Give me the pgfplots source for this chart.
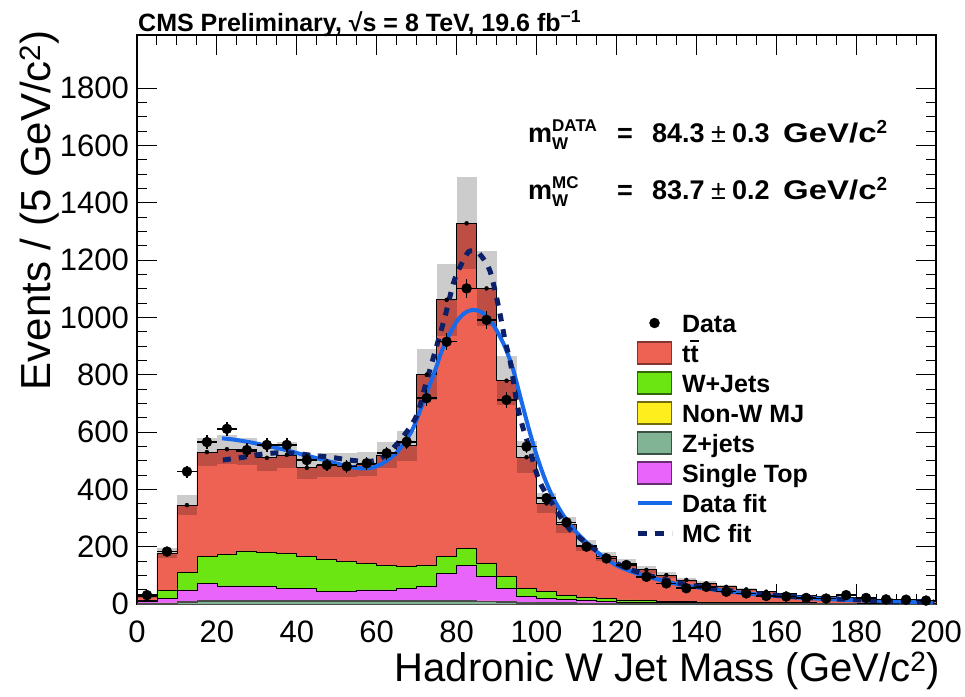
\documentclass[border=0pt]{standalone}
\usepackage{fontspec}
\setmainfont{Liberation Sans}
\usepackage{pgfplots}
\pgfplotsset{compat=1.18}
\usepackage{pgfplotstable}

\definecolor{ttred}{RGB}{238,98,84}
\definecolor{wgreen}{RGB}{108,230,18}
\definecolor{mjyellow}{RGB}{255,238,30}
\definecolor{zgreen}{RGB}{128,180,148}
\definecolor{stmag}{RGB}{232,100,250}
\definecolor{fitblue}{RGB}{25,105,235}
\definecolor{mcnavy}{RGB}{12,32,105}

\pgfplotstableread{
x tt w st mj z err
0 13 4 5 1 2 3
5 131 26 16 1 3 18
10 236 60 40 3 6 35
15 365 93 59 3 10 50
20 366 111 51 3 9 50
25 347 122 51 3 9 48
30 329 121 48 3 9 45
35 343 122 43 3 9 45
40 310 110 43 3 9 40
45 331 111 31 3 9 42
50 337 105 31 3 9 42
55 345 93 37 3 9 42
60 384 87 37 3 9 45
65 422 75 43 3 9 52
70 664 76 48 3 9 90
75 894 60 94 3 10 125
80 1134 61 120 3 10 160
85 959 47 84 3 8 130
90 684 40 46 3 6 85
95 457 29 20 2 4 55
100 308 23 15 2 3 35
105 245 15 11 2 3 28
110 183 10 8 2 2 20
115 147 9 6 1 2 16
120 128 7 4 1 2 14
125 108 5 4 1 1 12
130 92 4 3 1 1 10
135 76 4 2 1 1 8
140 65 3 2 1 1 7
145 54 3 2 0 1 6
150 46 2 2 0 1 5
155 38 2 2 0 1 4
160 32 2 1 0 1 4
165 26 2 1 0 1 3
170 22 1 1 0 1 3
175 19 1 1 0 1 3
180 16 2 1 0 0 2
185 14 1 1 0 0 2
190 10 1 1 0 0 2
195 8 1 1 0 0 2
200 8 1 1 0 0 2
}\histtab

\pgfplotstableread{
xc data derr
2.5 31 6
7.5 183 14
12.5 462 21
17.5 565 24
22.5 611 25
27.5 537 23
32.5 555 24
37.5 555 24
42.5 502 22
47.5 485 22
52.5 480 22
57.5 491 22
62.5 526 23
67.5 566 24
72.5 718 27
77.5 915 30
82.5 1101 33
87.5 991 31
92.5 712 27
97.5 549 23
102.5 369 19
107.5 285 17
112.5 200 14
117.5 159 13
122.5 136 12
127.5 95 10
132.5 72 8
137.5 55 7
142.5 60 8
147.5 43 7
152.5 37 6
157.5 28 5
162.5 26 5
167.5 21 5
172.5 19 4
177.5 31 6
182.5 21 5
187.5 16 4
192.5 15 4
197.5 12 3
}\datatab

\newcommand{\legbox}{\path[draw=none, fill=none] (0pt,-12pt) rectangle (34pt,12pt);}

\begin{document}
\begin{tikzpicture}
\begin{axis}[
  at={(137pt,92pt)}, anchor=south west,
  width=799pt, height=569pt, scale only axis,
  xmin=0, xmax=200, ymin=0, ymax=1985,
  xtick={0,20,...,200}, ytick={0,200,...,1800},
  minor x tick num=3, minor y tick num=3,
  tick align=inside, xtick pos=both, ytick pos=both,
  major tick length=20pt, minor tick length=10pt,
  every tick/.style={black, line width=1pt},
  axis line style={line width=1.2pt},
  ticklabel style={font=\fontsize{31}{31}\selectfont},
  xticklabel style={inner sep=0pt, yshift=-17pt},
  yticklabel style={inner sep=0pt, xshift=-8pt},
  /pgf/number format/assume math mode=true,
  /pgf/number format/1000 sep={},
  scaled ticks=false,
  legend cell align=left,
  legend style={at={(rel axis cs:0.6233,0.5149)}, anchor=north west,
    draw=none, fill=none, inner sep=0pt, outer sep=0pt,
    font=\bfseries\fontsize{25}{25}\selectfont,
    row sep=6pt, /tikz/column sep=8pt,
    nodes={inner sep=0pt, text height=18pt, text depth=0pt}},
]
% legend
\addlegendimage{legend image code/.code={\legbox\fill[black] (17pt,0pt) circle (5pt);}}
\addlegendentry{Data}
\addlegendimage{legend image code/.code={\legbox\draw[fill=ttred, draw=ttred!55!black, line width=1.5pt] (0pt,-11pt) rectangle (34pt,11pt);}}
\addlegendentry{t\rlap{\rule[0.8em]{0.33em}{0.07em}}t}
\addlegendimage{legend image code/.code={\legbox\draw[fill=wgreen, draw=wgreen!45!black, line width=1.5pt] (0pt,-11pt) rectangle (34pt,11pt);}}
\addlegendentry{W+Jets}
\addlegendimage{legend image code/.code={\legbox\draw[fill=mjyellow, draw=mjyellow!45!black, line width=1.5pt] (0pt,-11pt) rectangle (34pt,11pt);}}
\addlegendentry{Non-W MJ}
\addlegendimage{legend image code/.code={\legbox\draw[fill=zgreen, draw=zgreen!45!black, line width=1.5pt] (0pt,-11pt) rectangle (34pt,11pt);}}
\addlegendentry{Z+jets}
\addlegendimage{legend image code/.code={\legbox\draw[fill=stmag, draw=stmag!45!black, line width=1.5pt] (0pt,-11pt) rectangle (34pt,11pt);}}
\addlegendentry{Single Top}
\addlegendimage{legend image code/.code={\legbox\draw[fitblue, line width=4pt] (0pt,0pt) -- (34pt,0pt);}}
\addlegendentry{Data fit}
\addlegendimage{legend image code/.code={\legbox\draw[mcnavy, line width=5pt, dash pattern=on 9pt off 8pt] (0pt,0pt) -- (34pt,0pt);}}
\addlegendentry{MC fit}

% stacked histogram (cumulative from the components)
\addplot[forget plot, const plot mark left, fill=ttred, draw=black, line width=0.8pt]
  table[x=x, y expr=\thisrow{tt}+\thisrow{w}+\thisrow{st}+\thisrow{mj}+\thisrow{z}]{\histtab} \closedcycle;
\addplot[forget plot, const plot mark left, fill=wgreen, draw=black, line width=0.8pt]
  table[x=x, y expr=\thisrow{w}+\thisrow{st}+\thisrow{mj}+\thisrow{z}]{\histtab} \closedcycle;
\addplot[forget plot, const plot mark left, fill=stmag, draw=black, line width=0.8pt]
  table[x=x, y expr=\thisrow{st}+\thisrow{mj}+\thisrow{z}]{\histtab} \closedcycle;
\addplot[forget plot, const plot mark left, fill=mjyellow, draw=black!70, line width=0.6pt]
  table[x=x, y expr=\thisrow{mj}+\thisrow{z}]{\histtab} \closedcycle;
\addplot[forget plot, const plot mark left, fill=zgreen, draw=black!70, line width=0.6pt]
  table[x=x, y=z]{\histtab} \closedcycle;

% MC uncertainty band (one bin-wide bar per bin)
\addplot[forget plot, only marks, mark=none,
  error bars/.cd, y dir=both, y explicit, error mark=none,
  error bar style={line width=19.97pt, draw=black, draw opacity=0.2}]
  table[x expr=\thisrow{x}+2.5, y expr=\thisrow{tt}+\thisrow{w}+\thisrow{st}+\thisrow{mj}+\thisrow{z}, y error=err]{\histtab};

% fits
\addplot[forget plot, fitblue, line width=4pt, smooth] coordinates {
(21.3,578) (24,574) (27.6,566) (30.5,558) (33.5,549) (37,538) (40.2,526) (43.5,514)
(46.9,502) (50,490) (52.8,480) (55,475) (57,473) (59,476) (61,487) (63,505) (65,528)
(67,565) (69,610) (71,680) (73,755) (75,830) (76.2,880) (78,935) (80,985) (82,1015)
(84,1026) (86,1020) (88,997) (90,955) (92,900) (94,825) (96,720) (98,615) (100,520)
(102,440) (104,375) (106,325) (108,284) (110,250) (112.5,215) (116,172) (120,135)
(124,112) (128,95) (132,80) (136.6,66) (145,49) (153,36) (162,26) (170,19) (180,13)
(190,9) (199.5,6)};
\addplot[forget plot, mcnavy, line width=5pt, dash pattern=on 8pt off 8pt, smooth] coordinates {
(21.5,502) (24,507) (26.7,512) (30.9,522) (35.9,528) (40,525) (44,518) (48.5,512)
(53.2,502) (57.8,497) (60.5,505) (62.8,526) (65.5,565) (68,610) (69.9,654) (71,700)
(72.1,758) (74.6,880) (77.1,1003) (79.2,1119) (80.9,1177) (83,1229) (85,1228)
(86.3,1212) (88.4,1160) (90.5,1037) (92.2,915) (93.5,840) (95.1,700) (96.5,620)
(98.1,549) (100.6,433) (103.9,351) (108.1,264) (113.1,206) (117,168) (120,142)
(124,118) (128,100) (136,72) (145,52) (153,39) (162,28) (170,21) (180,15) (190,10)
(199.5,7)};

% data
\addplot[forget plot, only marks, mark=*, mark size=5pt, black,
  error bars/.cd, x dir=both, x fixed=2.5, y dir=both, y explicit,
  error mark=none, error bar style={line width=1.5pt, black}]
  table[x=xc, y=data, y error=derr]{\datatab};
\end{axis}

% title and annotations
\node[anchor=base west, inner sep=0pt, font=\bfseries\fontsize{25}{25}\selectfont]
  at (138pt,664pt) {CMS Preliminary, √s = 8 TeV, 19.6 fb\textsuperscript{−1}};

\begin{scope}[every node/.style={anchor=base west, inner sep=0pt, font=\bfseries\fontsize{27}{27}\selectfont}]
\node at (528pt,553pt) {m\rlap{\raisebox{11pt}{\fontsize{17}{17}\selectfont DATA}}\raisebox{-7pt}{\fontsize{17}{17}\selectfont W}};
\node at (617pt,553pt) {=};
\node at (652pt,553pt) {84.3};
\node at (711pt,553pt) {\mdseries ±};
\node at (732pt,553pt) {0.3};
\node at (783pt,553pt) {\scalebox{1.22}[1]{GeV/c}\textsuperscript{2}};

\node at (528pt,496pt) {m\rlap{\raisebox{11pt}{\fontsize{17}{17}\selectfont MC}}\raisebox{-7pt}{\fontsize{17}{17}\selectfont W}};
\node at (617pt,496pt) {=};
\node at (652pt,496pt) {83.7};
\node at (711pt,496pt) {\mdseries ±};
\node at (732pt,496pt) {0.2};
\node at (783pt,496pt) {\scalebox{1.22}[1]{GeV/c}\textsuperscript{2}};
\end{scope}

% axis titles
\node[anchor=base east, inner sep=0pt, font=\fontsize{40}{40}\selectfont]
  at (940pt,15pt) {Hadronic W Jet Mass (GeV/c\textsuperscript{2})};
\node[rotate=90, anchor=base east, inner sep=0pt, font=\fontsize{42}{42}\selectfont]
  at (50pt,666pt) {Events / (5 GeV/c\textsuperscript{2})};

% fix the page size to the reference's proportions
\path (0pt,0pt) rectangle (965pt,696pt);
\end{tikzpicture}
\end{document}
